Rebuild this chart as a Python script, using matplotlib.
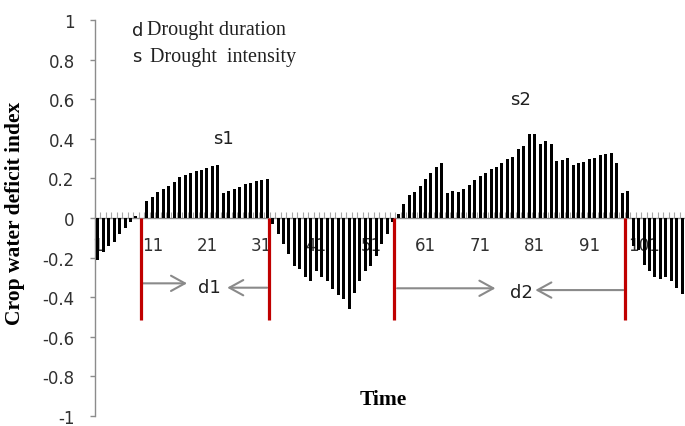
import matplotlib
matplotlib.use('Agg')
import matplotlib.pyplot as plt

# ---------------- data ----------------
time_steps = list(range(1, 109))
cwdi = [
    -0.21, -0.17, -0.14, -0.12, -0.08, -0.05, -0.02, 0.012, 0.0,
    0.088, 0.106, 0.133, 0.146, 0.162, 0.183, 0.205, 0.219, 0.226, 0.239,
    0.242, 0.253, 0.261, 0.268, 0.128, 0.138, 0.146, 0.158, 0.170, 0.177,
    0.185, 0.192, 0.197,
    -0.03, -0.08, -0.13, -0.18, -0.24, -0.26, -0.30, -0.32, -0.27, -0.30,
    -0.32, -0.36, -0.39, -0.41, -0.46, -0.38, -0.32, -0.27, -0.24, -0.19,
    -0.13, -0.08,
    -0.02, 0.02, 0.07, 0.116, 0.132, 0.161, 0.196, 0.229, 0.26, 0.28,
    0.126, 0.136, 0.132, 0.146, 0.166, 0.191, 0.213, 0.229, 0.25, 0.26,
    0.28, 0.30, 0.31, 0.35, 0.363, 0.424, 0.424, 0.375, 0.389, 0.375,
    0.29, 0.295, 0.305, 0.266, 0.276, 0.283, 0.296, 0.305, 0.317, 0.325,
    0.33, 0.28, 0.126, 0.137,
    -0.14, -0.16, -0.235, -0.27, -0.30, -0.31, -0.30, -0.32, -0.355, -0.385,
]
xtick_values = list(range(1, 102, 10))
xtick_labels = [str(v) for v in xtick_values]
ytick_values = [-1, -0.8, -0.6, -0.4, -0.2, 0, 0.2, 0.4, 0.6, 0.8, 1]
ytick_labels = ['-1', '-0.8', '-0.6', '-0.4', '-0.2', '0', '0.2', '0.4', '0.6', '0.8', '1']
drought_bounds = [9.0, 32.3, 55.2, 97.6]
duration_labels = ['d1', 'd2']
intensity_labels = ['s1', 's2']
key_letters = ['d', 's']
key_texts = ['Drought duration', 'Drought  intensity']
y_title = 'Crop water deficit index'
x_title = 'Time'

# ---------------- figure ----------------
fig = plt.figure(figsize=(6.85, 4.27), dpi=100)
ax = fig.add_axes([95 / 685, 10 / 427, 590 / 685, 396 / 427])

ax.bar(time_steps, cwdi, width=0.55, color='black', zorder=3)
ax.set_xlim(0.5, 108.5)
ax.set_ylim(-1, 1)

axis_grey = '#8c8c8c'
label_col = '#303030'
sans = 'DejaVu Sans'
serif = 'Liberation Serif'

for s in ['top', 'right']:
    ax.spines[s].set_visible(False)
ax.spines['bottom'].set_position(('data', 0))
ax.spines['bottom'].set_color(axis_grey)
ax.spines['left'].set_color(axis_grey)
ax.spines['bottom'].set_linewidth(1.0)
ax.spines['left'].set_linewidth(1.0)

ax.set_yticks(ytick_values)
ax.set_yticklabels(ytick_labels, fontsize=12, family=sans, color=label_col)
ax.tick_params(axis='y', direction='out', length=3.6, width=1.0,
               color=axis_grey, pad=11)

ax.set_xticks(xtick_values)
ax.set_xticklabels(xtick_labels, fontsize=12, family=sans, color=label_col)
ax.set_xticks([t + 0.5 for t in [0] + time_steps], minor=True)
ax.tick_params(axis='x', which='major', length=0, pad=13)
ax.tick_params(axis='x', which='minor', direction='in', length=4.3,
               width=0.8, color='#a6a6a6')

ax.set_ylabel(y_title, fontsize=15.5, family=serif, fontweight='bold')
ax.yaxis.set_label_coords(-0.1186, 0.513)
ax.set_xlabel(x_title, fontsize=15.5, family=serif, fontweight='bold')
ax.xaxis.set_label_coords(0.488, 0.042)
ax.xaxis.label.set_va('center')

# drought boundaries
ax.vlines(drought_bounds, -0.515, 0, colors='#C00000', linewidth=2.3, zorder=4)

# duration arrows
arrow_kw = dict(arrowstyle='->,head_length=1.0,head_width=0.55',
                color='#8a8a8a', lw=1.5, shrinkA=0, shrinkB=0)
ax.annotate('', xy=(17.35, -0.33), xytext=(9.3, -0.33), arrowprops=arrow_kw)
ax.annotate('', xy=(24.7, -0.352), xytext=(32.0, -0.352), arrowprops=arrow_kw)
ax.annotate('', xy=(73.8, -0.355), xytext=(55.8, -0.355), arrowprops=arrow_kw)
ax.annotate('', xy=(81.1, -0.364), xytext=(97.2, -0.364), arrowprops=arrow_kw)

ax.text(21.35, -0.35, duration_labels[0], fontsize=13, family=sans,
        color='#202020', ha='center', va='center')
ax.text(78.6, -0.375, duration_labels[1], fontsize=13, family=sans,
        color='#202020', ha='center', va='center')
ax.text(24.0, 0.403, intensity_labels[0], fontsize=13, family=sans,
        color='#202020', ha='center', va='center')
ax.text(78.4, 0.60, intensity_labels[1], fontsize=13, family=sans,
        color='#202020', ha='center', va='center')

# key text
ax.text(7.35, 0.951, key_letters[0], fontsize=13, family=sans,
        color='#202020', ha='left', va='center')
ax.text(10.1, 0.951, key_texts[0], fontsize=14.5, family=serif,
        color='#202020', ha='left', va='center')
ax.text(7.35, 0.816, key_letters[1], fontsize=13, family=sans,
        color='#202020', ha='left', va='center')
ax.text(10.6, 0.816, key_texts[1], fontsize=14.5, family=serif,
        color='#202020', ha='left', va='center')

fig.savefig('out.png', dpi=100)
